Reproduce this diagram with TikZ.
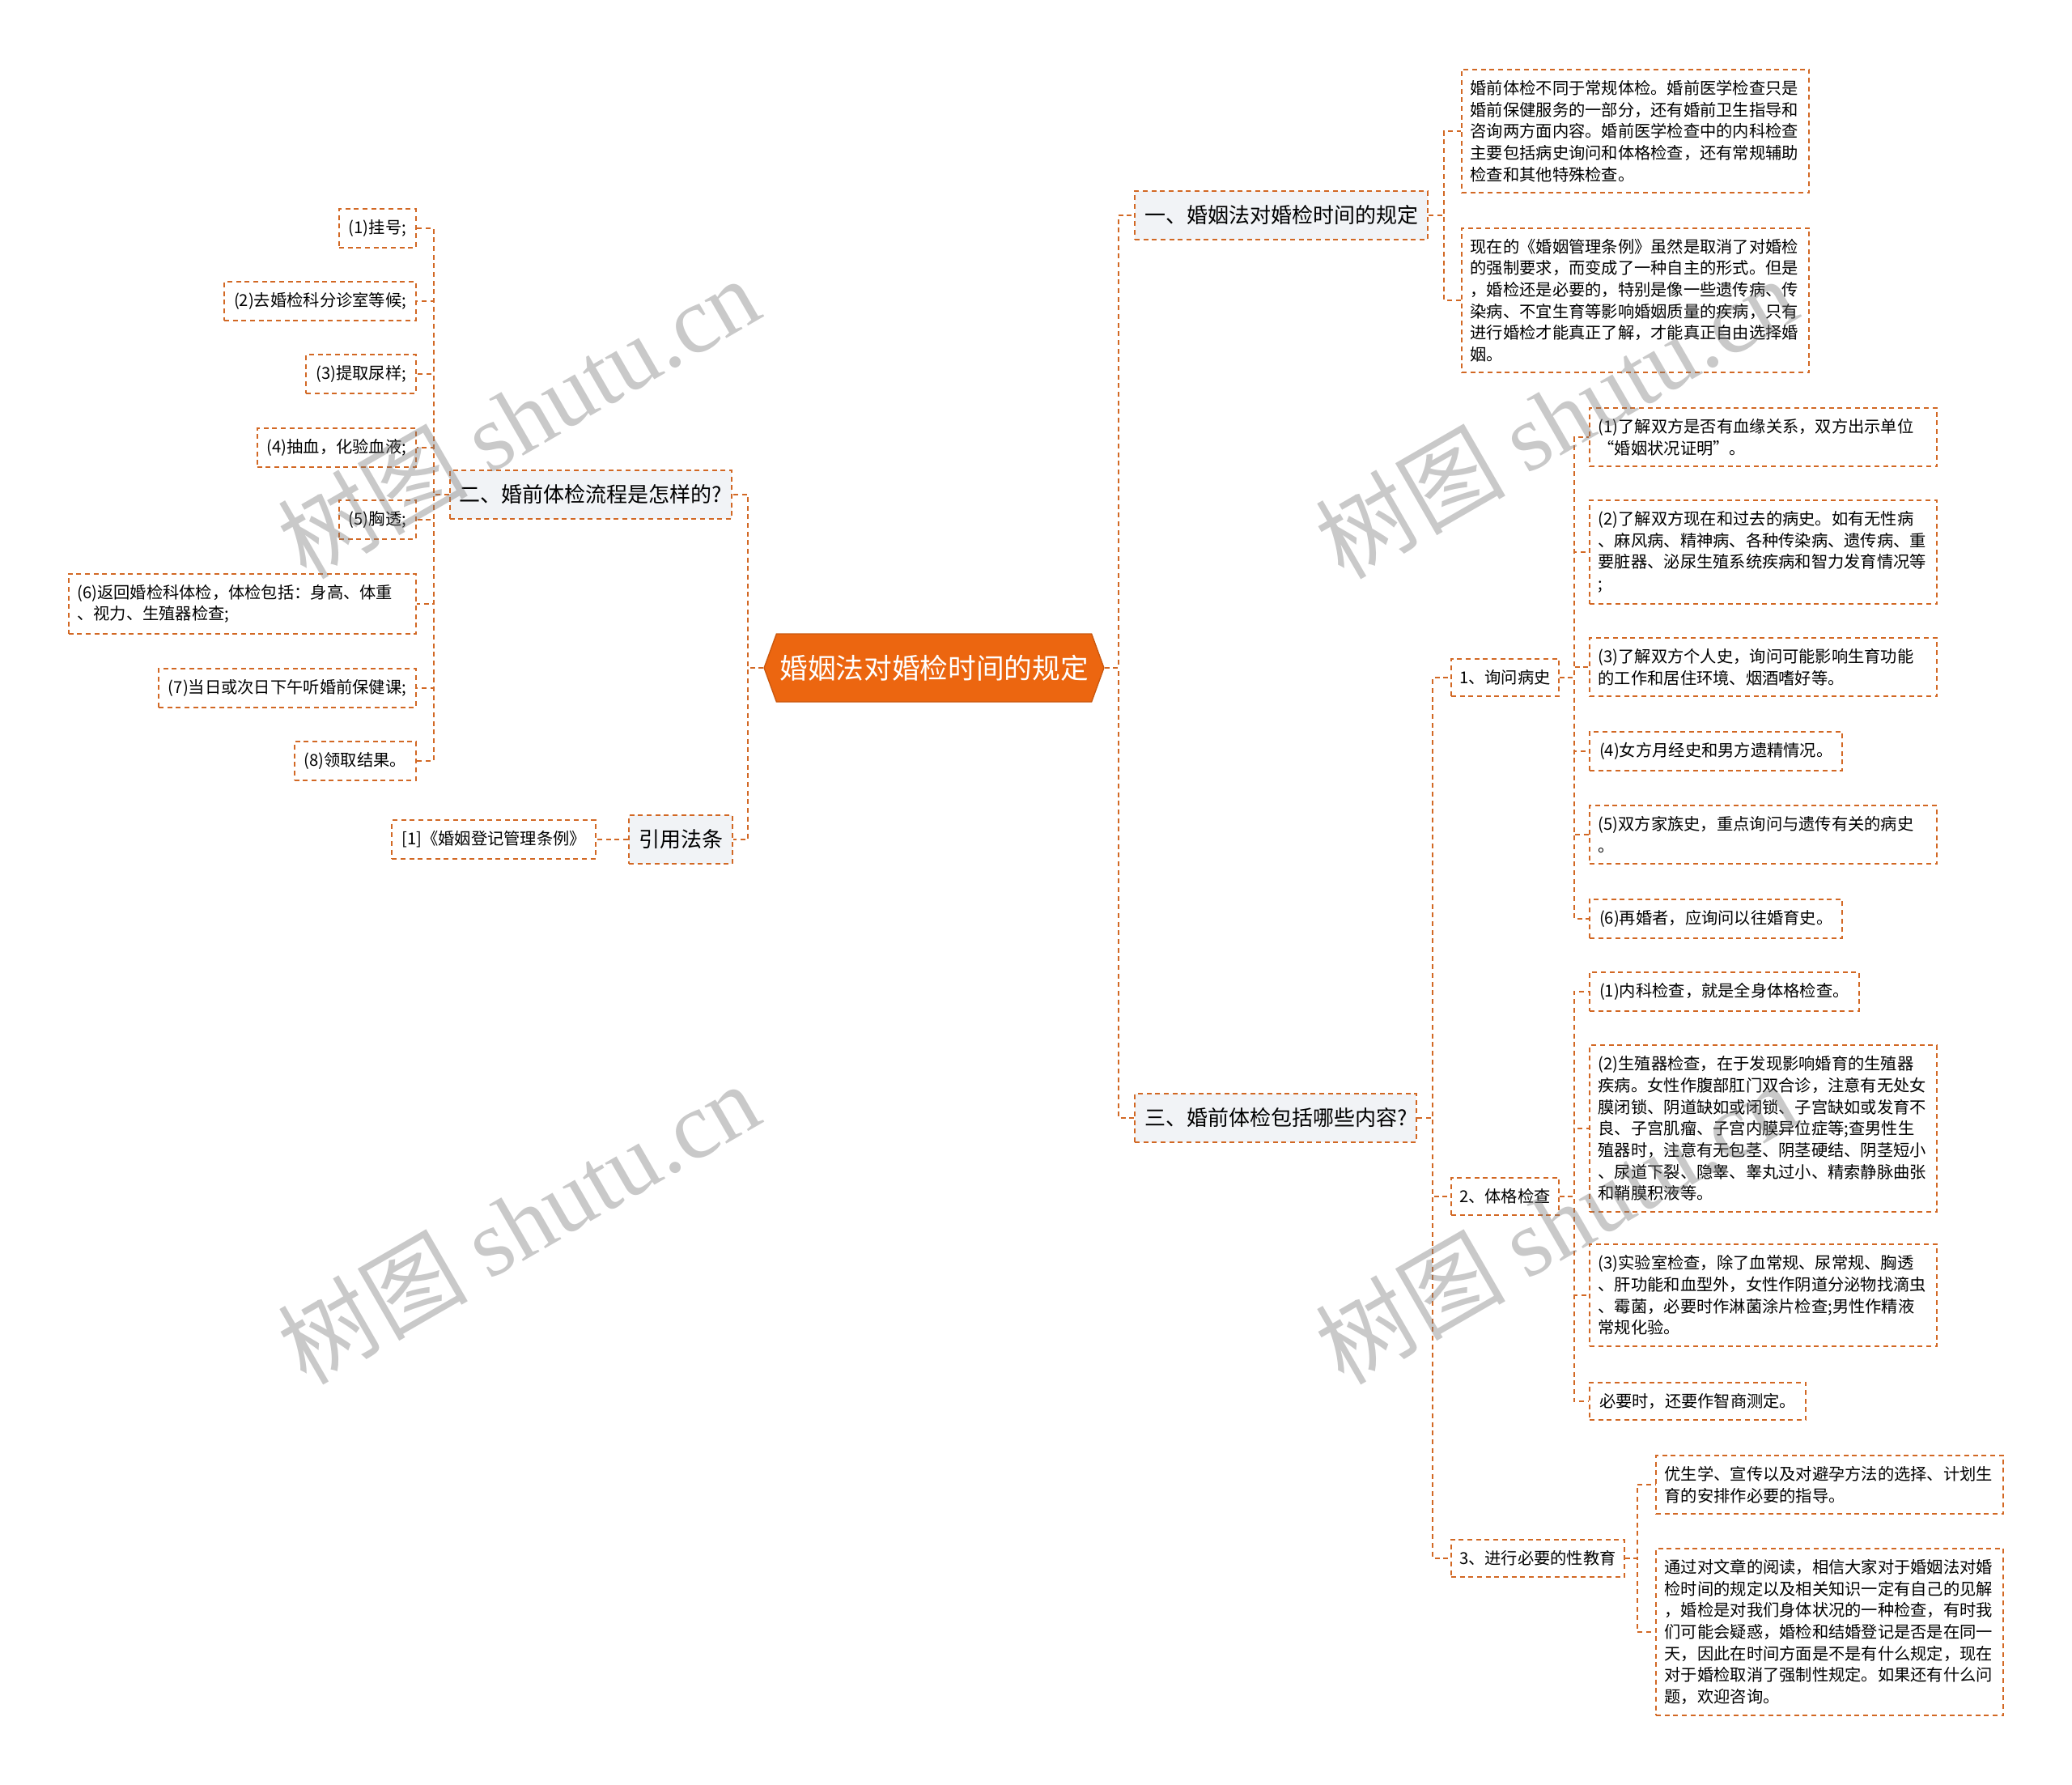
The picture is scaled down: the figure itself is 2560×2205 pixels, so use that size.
\documentclass[tikz,border=0pt]{standalone}
\usepackage{fontspec}
\setmainfont{Noto Sans CJK SC}
\newfontfamily\wmfont{Liberation Serif}
\usetikzlibrary{shapes.symbols}
\definecolor{lineOrange}{RGB}{210,104,36}
\definecolor{rootOrange}{RGB}{236,102,16}
\definecolor{topicGray}{RGB}{241,243,246}
\definecolor{markGray}{RGB}{120,120,120}
\tikzset{
  rootnode/.style={signal, signal to=east and west, signal pointer angle=140, fill=rootOrange, draw=rootOrange!85!black, line width=1pt, text=white, font=\fontsize{26}{30}\selectfont, minimum height=63pt, inner xsep=3pt},
  topicbox/.style={draw=lineOrange, fill=topicGray, line width=1.5pt, dash pattern=on 4.5pt off 3.5pt, font=\fontsize{19.5}{24}\selectfont, minimum height=45pt, inner xsep=9pt},
  subbox/.style={draw=lineOrange, fill=white, line width=1.5pt, dash pattern=on 4.5pt off 3.5pt, font=\fontsize{15.2}{20}\selectfont, minimum height=35pt, inner xsep=7.5pt},
  leafbox/.style={draw=lineOrange, fill=white, line width=1.5pt, dash pattern=on 4.5pt off 3.5pt, font=\fontsize{15.2}{20}\selectfont, minimum height=35pt, inner xsep=9pt, inner ysep=10pt, align=left},
  widebox/.style={leafbox, text width=306pt, inner xsep=8pt},
  link/.style={draw=lineOrange, line width=1.5pt, dash pattern=on 4.5pt off 3.5pt},
  wmark/.style={text=markGray, opacity=0.4, rotate=30, font=\fontsize{88}{88}\selectfont}
}

\begin{document}
\begin{tikzpicture}[x=0.75pt,y=-0.75pt]
  \useasboundingbox (0,0) rectangle (2560,2205);

  % Centre
  \node[rootnode] (root) at (1154,825) {婚姻法对婚检时间的规定};

  % Main topics
  \node[topicbox, anchor=west] (rule) at (1401,266) {一、婚姻法对婚检时间的规定};
  \node[topicbox, anchor=east] (flow) at (905,611) {二、婚前体检流程是怎样的?};
  \node[topicbox, anchor=west] (items) at (1401,1381) {三、婚前体检包括哪些内容?};
  \node[topicbox, anchor=east] (law) at (906,1037) {引用法条};

  % Topic one
  \node[widebox, anchor=west] (rule1) at (1805,162) {婚前体检不同于常规体检。婚前医学检查只是\\婚前保健服务的一部分，还有婚前卫生指导和\\咨询两方面内容。婚前医学检查中的内科检查\\主要包括病史询问和体格检查，还有常规辅助\\检查和其他特殊检查。};
  \node[widebox, anchor=west] (rule2) at (1805,371) {现在的《婚姻管理条例》虽然是取消了对婚检\\的强制要求，而变成了一种自主的形式。但是\\，婚检还是必要的，特别是像一些遗传病、传\\染病、不宜生育等影响婚姻质量的疾病，只有\\进行婚检才能真正了解，才能真正自由选择婚\\姻。};

  % Topic two: procedure
  \node[leafbox, anchor=east] (flow1) at (515,282) {(1)挂号;};
  \node[leafbox, anchor=east] (flow2) at (515,372) {(2)去婚检科分诊室等候;};
  \node[leafbox, anchor=east] (flow3) at (515,462) {(3)提取尿样;};
  \node[leafbox, anchor=east] (flow4) at (515,553) {(4)抽血，化验血液;};
  \node[leafbox, anchor=east] (flow5) at (515,642) {(5)胸透;};
  \node[widebox, anchor=east] (flow6) at (515,746) {(6)返回婚检科体检，体检包括：身高、体重\\、视力、生殖器检查;};
  \node[leafbox, anchor=east] (flow7) at (515,850) {(7)当日或次日下午听婚前保健课;};
  \node[leafbox, anchor=east] (flow8) at (515,940) {(8)领取结果。};

  % Reference
  \node[leafbox, anchor=east] (lawref) at (737,1037) {[1]《婚姻登记管理条例》};

  % Topic three
  \node[subbox, anchor=west] (hist) at (1792,837) {1、询问病史};
  \node[subbox, anchor=west] (phys) at (1792,1478) {2、体格检查};
  \node[subbox, anchor=west] (edu) at (1792,1925) {3、进行必要的性教育};

  \node[widebox, anchor=west] (hist1) at (1963,540) {(1)了解双方是否有血缘关系，双方出示单位\\“婚姻状况证明”。};
  \node[widebox, anchor=west] (hist2) at (1963,682) {(2)了解双方现在和过去的病史。如有无性病\\、麻风病、精神病、各种传染病、遗传病、重\\要脏器、泌尿生殖系统疾病和智力发育情况等\\;};
  \node[widebox, anchor=west] (hist3) at (1963,824) {(3)了解双方个人史，询问可能影响生育功能\\的工作和居住环境、烟酒嗜好等。};
  \node[leafbox, anchor=west] (hist4) at (1963,928) {(4)女方月经史和男方遗精情况。};
  \node[widebox, anchor=west] (hist5) at (1963,1031) {(5)双方家族史，重点询问与遗传有关的病史\\。};
  \node[leafbox, anchor=west] (hist6) at (1963,1135) {(6)再婚者，应询问以往婚育史。};

  \node[leafbox, anchor=west] (phys1) at (1963,1225) {(1)内科检查，就是全身体格检查。};
  \node[widebox, anchor=west] (phys2) at (1963,1394) {(2)生殖器检查，在于发现影响婚育的生殖器\\疾病。女性作腹部肛门双合诊，注意有无处女\\膜闭锁、阴道缺如或闭锁、子宫缺如或发育不\\良、子宫肌瘤、子宫内膜异位症等;查男性生\\殖器时，注意有无包茎、阴茎硬结、阴茎短小\\、尿道下裂、隐睾、睾丸过小、精索静脉曲张\\和鞘膜积液等。};
  \node[widebox, anchor=west] (phys3) at (1963,1600) {(3)实验室检查，除了血常规、尿常规、胸透\\、肝功能和血型外，女性作阴道分泌物找滴虫\\、霉菌，必要时作淋菌涂片检查;男性作精液\\常规化验。};
  \node[leafbox, anchor=west] (phys4) at (1963,1731) {必要时，还要作智商测定。};

  \node[widebox, anchor=west] (edu1) at (2045,1834) {优生学、宣传以及对避孕方法的选择、计划生\\育的安排作必要的指导。};
  \node[widebox, anchor=west] (edu2) at (2045,2016) {通过对文章的阅读，相信大家对于婚姻法对婚\\检时间的规定以及相关知识一定有自己的见解\\，婚检是对我们身体状况的一种检查，有时我\\们可能会疑惑，婚检和结婚登记是否是在同一\\天，因此在时间方面是不是有什么规定，现在\\对于婚检取消了强制性规定。如果还有什么问\\题，欢迎咨询。};

  % Centre to topics
  \draw[link] (root.east) -- ++(17,0) |- (rule.west);
  \draw[link] (root.east) -- ++(17,0) |- (items.west);
  \draw[link] (root.west) -- ++(-19,0) |- (flow.east);
  \draw[link] (root.west) -- ++(-19,0) |- (law.east);

  % Topic one
  \draw[link] (rule.east) -- ++(19,0) |- (rule1.west);
  \draw[link] (rule.east) -- ++(19,0) |- (rule2.west);

  % Topic two
  \draw[link] (flow.west) -- ++(-19,0) |- (flow1.east);
  \draw[link] (flow.west) -- ++(-19,0) |- (flow2.east);
  \draw[link] (flow.west) -- ++(-19,0) |- (flow3.east);
  \draw[link] (flow.west) -- ++(-19,0) |- (flow4.east);
  \draw[link] (flow.west) -- ++(-19,0) |- (flow5.east);
  \draw[link] (flow.west) -- ++(-19,0) |- (flow6.east);
  \draw[link] (flow.west) -- ++(-19,0) |- (flow7.east);
  \draw[link] (flow.west) -- ++(-19,0) |- (flow8.east);
  \draw[link] (law.west) -- (lawref.east);

  % Topic three
  \draw[link] (items.east) -- ++(19,0) |- (hist.west);
  \draw[link] (items.east) -- ++(19,0) |- (phys.west);
  \draw[link] (items.east) -- ++(19,0) |- (edu.west);

  \draw[link] (hist.east) -- ++(18,0) |- (hist1.west);
  \draw[link] (hist.east) -- ++(18,0) |- (hist2.west);
  \draw[link] (hist.east) -- ++(18,0) |- (hist3.west);
  \draw[link] (hist.east) -- ++(18,0) |- (hist4.west);
  \draw[link] (hist.east) -- ++(18,0) |- (hist5.west);
  \draw[link] (hist.east) -- ++(18,0) |- (hist6.west);

  \draw[link] (phys.east) -- ++(18,0) |- (phys1.west);
  \draw[link] (phys.east) -- ++(18,0) |- (phys2.west);
  \draw[link] (phys.east) -- ++(18,0) |- (phys3.west);
  \draw[link] (phys.east) -- ++(18,0) |- (phys4.west);

  \draw[link] (edu.east) -- ++(15,0) |- (edu1.west);
  \draw[link] (edu.east) -- ++(15,0) |- (edu2.west);

  % Watermarks
  \node[wmark] (wm1) at (640,515) {树图 {\wmfont shutu.cn}};
  \node[wmark] (wm2) at (640,1510) {树图 {\wmfont shutu.cn}};
  \node[wmark] (wm3) at (1922,515) {树图 {\wmfont shutu.cn}};
  \node[wmark] (wm4) at (1922,1510) {树图 {\wmfont shutu.cn}};
\end{tikzpicture}
\end{document}
